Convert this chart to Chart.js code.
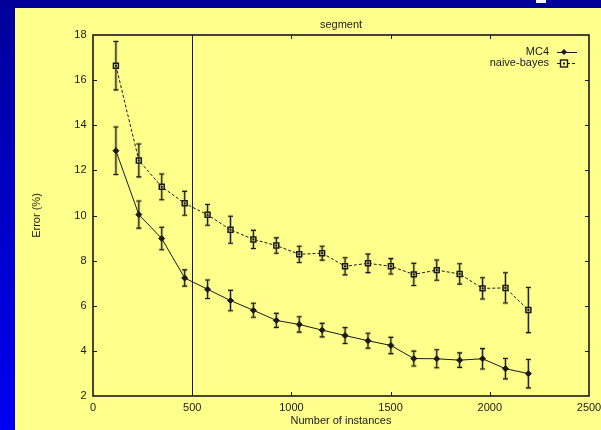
<!DOCTYPE html>
<html>
<head>
<meta charset="utf-8">
<script src="https://cdn.jsdelivr.net/npm/chart.js@4/dist/chart.umd.min.js"></script>
<style>
  html, body { margin: 0; padding: 0; }
  body { width: 601px; height: 430px; overflow: hidden; position: relative;
         background: linear-gradient(to bottom, #000098 0%, #0000c8 50%, #0000f2 100%); }
  #panel { position: absolute; left: 15px; top: 8px; width: 586px; height: 422px; background: #ffff8c; }
  #mark { position: absolute; left: 536px; top: 0px; width: 10px; height: 3px; background: #f4f4f4; }
  #wrap { position: absolute; left: 0; top: 0; width: 601px; height: 430px; }
</style>
</head>
<body>
<div id="panel"></div>
<div id="mark"></div>
<div id="wrap"><canvas id="c" width="601" height="430"></canvas></div>
<script>
// ---- data ----
const instances = [115.5, 231, 346.5, 462, 577.5, 693, 808.5, 924, 1039.5, 1155, 1270.5, 1386, 1501.5, 1617, 1732.5, 1848, 1963.5, 2079, 2194.5];
const mc4      = [12.87, 10.04, 8.98, 7.23, 6.73, 6.23, 5.80, 5.35, 5.17, 4.92, 4.68, 4.45, 4.24, 3.66, 3.65, 3.59, 3.65, 3.21, 2.99];
const mc4Err   = [1.05, 0.60, 0.50, 0.36, 0.41, 0.45, 0.31, 0.31, 0.34, 0.30, 0.35, 0.33, 0.36, 0.33, 0.40, 0.32, 0.45, 0.45, 0.63];
const nb       = [16.64, 12.44, 11.27, 10.54, 10.03, 9.37, 8.94, 8.67, 8.28, 8.33, 7.75, 7.88, 7.75, 7.39, 7.58, 7.41, 6.77, 6.79, 5.81];
const nbErr    = [1.07, 0.73, 0.57, 0.53, 0.46, 0.60, 0.40, 0.34, 0.36, 0.31, 0.38, 0.41, 0.34, 0.49, 0.45, 0.45, 0.47, 0.67, 1.00];
const xTicks   = [0, 500, 1000, 1500, 2000, 2500];
const yTicks   = [2, 4, 6, 8, 10, 12, 14, 16, 18];
const markerX  = 500;
const seriesNames = ['MC4', 'naive-bayes'];

const INK = '#1a1a1a';
const FONT = "'Liberation Sans', Arial, Helvetica, sans-serif";

const errData = [mc4Err, nbErr];

const decorPlugin = {
  id: 'decor',
  beforeDatasetsDraw(chart) {
    const {ctx, chartArea: a, scales: {x, y}} = chart;
    ctx.save();
    const vx = Math.round(x.getPixelForValue(markerX)) + 0.5;
    ctx.strokeStyle = INK; ctx.lineWidth = 1;
    ctx.beginPath(); ctx.moveTo(vx, a.top); ctx.lineTo(vx, a.bottom); ctx.stroke();
    chart.data.datasets.forEach((ds, di) => {
      const errs = errData[di];
      ds.data.forEach((p, i) => {
        const px = x.getPixelForValue(p.x);
        const yt = y.getPixelForValue(p.y + errs[i]);
        const yb = y.getPixelForValue(p.y - errs[i]);
        ctx.strokeStyle = 'rgba(90,90,40,0.3)'; ctx.lineWidth = 3;
        ctx.beginPath();
        ctx.moveTo(px, yt); ctx.lineTo(px, yb);
        ctx.moveTo(px - 2.5, yt); ctx.lineTo(px + 2.5, yt);
        ctx.moveTo(px - 2.5, yb); ctx.lineTo(px + 2.5, yb);
        ctx.stroke();
        ctx.strokeStyle = INK; ctx.lineWidth = 1.1;
        ctx.beginPath();
        ctx.moveTo(px, yt); ctx.lineTo(px, yb);
        ctx.moveTo(px - 2.5, yt); ctx.lineTo(px + 2.5, yt);
        ctx.moveTo(px - 2.5, yb); ctx.lineTo(px + 2.5, yb);
        ctx.stroke();
      });
    });
    ctx.restore();
  },
  afterDatasetsDraw(chart) {
    const {ctx, scales: {x, y}} = chart;
    ctx.save();
    ctx.fillStyle = INK;
    chart.data.datasets[1].data.forEach(p => {
      const px = x.getPixelForValue(p.x), py = y.getPixelForValue(p.y);
      ctx.fillRect(px - 1, py - 1, 2, 2);
    });
    ctx.restore();
  },
  afterDraw(chart) {
    const {ctx, chartArea: a, scales: {x, y}} = chart;
    ctx.save();
    ctx.strokeStyle = INK;
    ctx.lineWidth = 1;
    ctx.beginPath();
    xTicks.slice(1, -1).forEach(v => {
      const px = Math.round(x.getPixelForValue(v)) + 0.5;
      ctx.moveTo(px, a.bottom); ctx.lineTo(px, a.bottom - 4);
      ctx.moveTo(px, a.top); ctx.lineTo(px, a.top + 4);
    });
    yTicks.slice(1, -1).forEach(v => {
      const py = Math.round(y.getPixelForValue(v)) + 0.5;
      ctx.moveTo(a.left, py); ctx.lineTo(a.left + 4, py);
      ctx.moveTo(a.right, py); ctx.lineTo(a.right - 4, py);
    });
    ctx.stroke();
    ctx.lineWidth = 1.6;
    ctx.strokeRect(a.left, a.top, a.right - a.left, a.bottom - a.top);
    ctx.font = '11px ' + FONT;
    ctx.fillStyle = INK;
    ctx.textAlign = 'right'; ctx.textBaseline = 'middle';
    const rows = [52, 63];
    seriesNames.forEach((name, i) => {
      const ry = rows[i];
      ctx.fillText(name, 549, ry);
      ctx.lineWidth = 1;
      ctx.setLineDash(i === 1 ? [3, 2] : []);
      ctx.beginPath(); ctx.moveTo(557, ry + 0.5); ctx.lineTo(577, ry + 0.5); ctx.stroke();
      ctx.setLineDash([]);
      if (i === 0) {
        ctx.beginPath();
        ctx.moveTo(564, ry - 3); ctx.lineTo(567, ry); ctx.lineTo(564, ry + 3); ctx.lineTo(561, ry);
        ctx.closePath(); ctx.fill();
      } else {
        ctx.lineWidth = 1.4;
        ctx.fillStyle = '#ffff8c';
        ctx.fillRect(560.5, ry - 3, 7, 7);
        ctx.strokeRect(560.5, ry - 3, 7, 7);
        ctx.fillStyle = INK;
        ctx.fillRect(563, ry - 0.5, 2, 2);
      }
    });
    ctx.restore();
  }
};

const toPts = (vals) => vals.map((v, i) => ({x: instances[i], y: v}));

new Chart(document.getElementById('c'), {
  type: 'line',
  data: {
    datasets: [
      { label: seriesNames[0], data: toPts(mc4), borderColor: INK, borderWidth: 1,
        pointStyle: 'rectRot', pointRadius: 3, pointBackgroundColor: INK, pointBorderColor: INK,
        pointBorderWidth: 1, tension: 0, fill: false },
      { label: seriesNames[1], data: toPts(nb), borderColor: INK, borderWidth: 1, borderDash: [3, 2],
        pointStyle: 'rect', pointRadius: 3.5, pointBackgroundColor: 'rgba(255,255,140,0.6)',
        pointBorderColor: INK, pointBorderWidth: 1.5, tension: 0, fill: false }
    ]
  },
  options: {
    responsive: false,
    animation: false,
    events: [],
    layout: { padding: { left: 0, right: 12, top: 0, bottom: 0 } },
    plugins: {
      legend: { display: false },
      tooltip: { enabled: false },
      title: { display: true, text: 'segment', color: INK, fullSize: false,
               font: { family: FONT, size: 11, weight: 'normal', lineHeight: 1.2 },
               padding: { top: 18.4, bottom: 3.4 } }
    },
    scales: {
      x: {
        type: 'linear', min: 0, max: 2500,
        afterBuildTicks: (s) => { s.ticks = xTicks.map(v => ({value: v})); },
        afterFit: (s) => { s.height = 34; s.paddingRight = 0; s.paddingLeft = 0; },
        grid: { display: false, drawTicks: false },
        border: { display: false },
        ticks: { color: INK, padding: 5, maxRotation: 0, font: { family: FONT, size: 11 },
                 callback: (v) => String(v) },
        title: { display: true, text: 'Number of instances', color: INK,
                 font: { family: FONT, size: 11, lineHeight: 1.2 }, padding: { top: 0, bottom: 2.7 } }
      },
      y: {
        type: 'linear', min: 2, max: 18,
        afterBuildTicks: (s) => { s.ticks = yTicks.map(v => ({value: v})); },
        afterFit: (s) => { s.width = 93; },
        grid: { display: false, drawTicks: false },
        border: { display: false },
        ticks: { color: INK, padding: 6.5, font: { family: FONT, size: 11 },
                 callback: (v) => String(v) },
        title: { display: true, text: 'Error (%)', color: INK,
                 font: { family: FONT, size: 11, lineHeight: 1.2 }, padding: { top: 30.4, bottom: 0 } }
      }
    }
  },
  plugins: [decorPlugin]
});
</script>
</body>
</html>
